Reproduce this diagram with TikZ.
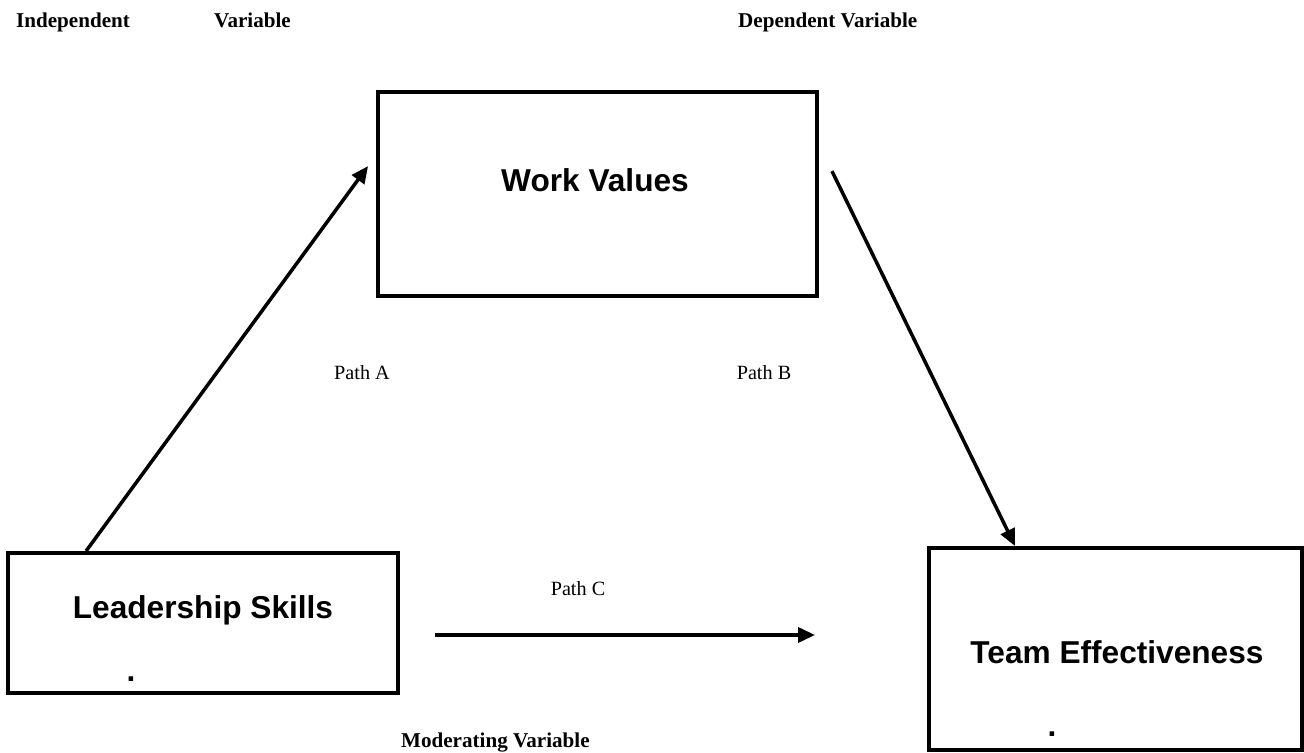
\documentclass[tikz,border=0pt]{standalone}
\usepackage{fontspec}
\setmainfont{Liberation Serif}
\setsansfont{Liberation Sans}
\usepackage{tikz}
\usetikzlibrary{positioning,arrows.meta}

\begin{document}
\begin{tikzpicture}[
  varbox/.style={draw,line width=2.2pt,inner sep=0pt},
  boxtext/.style={font=\sffamily\bfseries\fontsize{18}{22}\selectfont},
  heading/.style={font=\bfseries\fontsize{12}{14}\selectfont,anchor=base west},
  pathlabel/.style={font=\fontsize{11.5}{14}\selectfont},
  link/.style={line width=2pt,-{Triangle[length=0.34cm,width=0.3cm]}}]
  \useasboundingbox (0,0) rectangle (26.08,15.06);

  % the three variables
  \node[varbox,minimum width=8.78cm,minimum height=4.08cm] (values) at (11.95,11.18) {};
  \node[varbox,minimum width=7.80cm,minimum height=2.80cm] (skills) at (4.06,2.60) {};
  \node[varbox,minimum width=7.46cm,minimum height=4.04cm] (team) at (22.31,2.08) {};
  \node[boxtext] (valuestext) at (11.90,11.46) {Work Values};
  \node[boxtext] (skillstext) at (4.06,2.86) {Leadership Skills};
  \node[boxtext] (teamtext) at (22.34,2.02) {Team Effectiveness};
  \node[boxtext] (skillsdot) at (2.62,1.48) {.};
  \node[boxtext] (teamdot) at (21.04,0.38) {.};

  % headings
  \node[heading] (indep) at (0.20,14.50) {Independent};
  \node[heading] (indepvar) at (4.16,14.50) {Variable};
  \node[heading] (dep) at (14.64,14.50) {Dependent Variable};
  \node[heading] (moder) at (7.90,0.10) {Moderating Variable};

  % paths
  \draw[link] ([xshift=1.6cm]skills.north west) -- ([xshift=-0.16cm,yshift=-1.52cm]values.north west);
  \draw[link] ([xshift=0.26cm,yshift=-1.62cm]values.north east) -- ([xshift=1.76cm]team.north west);
  \draw[link] ([xshift=0.7cm,yshift=-0.24cm]skills.east) -- ([xshift=-2.24cm,yshift=0.28cm]team.west);
  \node[pathlabel] (patha) at (7.24,7.60) {Path A};
  \node[pathlabel] (pathb) at (15.28,7.60) {Path B};
  \node[pathlabel] (pathc) at (11.56,3.28) {Path C};
\end{tikzpicture}
\end{document}
